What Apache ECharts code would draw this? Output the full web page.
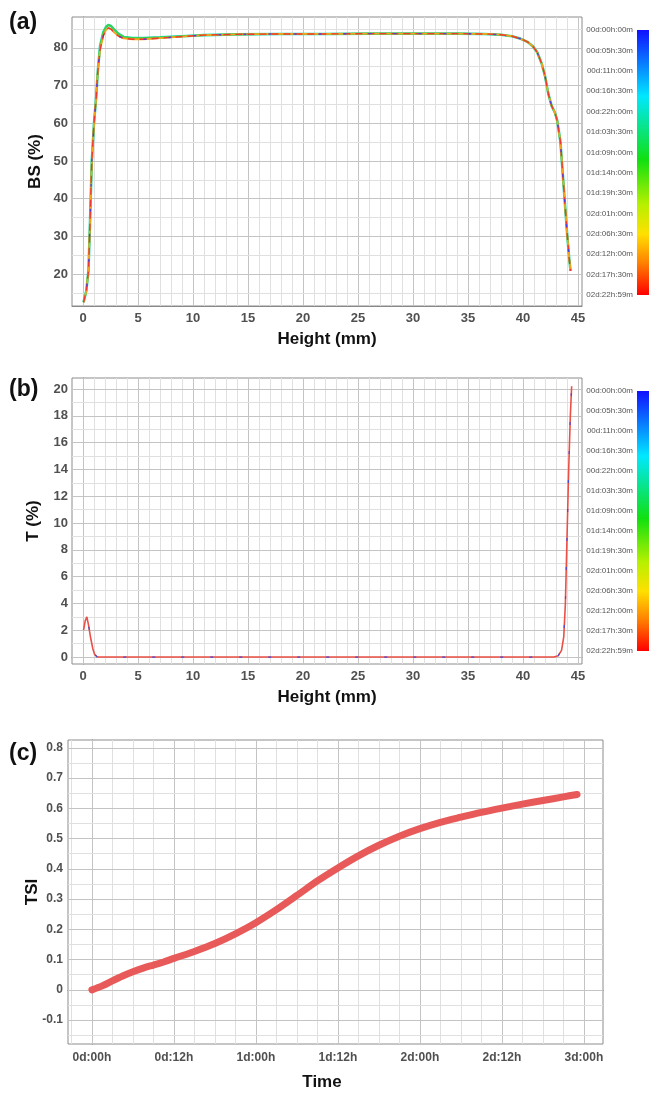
<!DOCTYPE html>
<html>
<head>
<meta charset="utf-8">
<script src="https://cdn.jsdelivr.net/npm/echarts@6/dist/echarts.min.js"></script>
<style>
  html, body { margin: 0; padding: 0; background: #fff; }
  #chart { width: 649px; height: 1095px; }
</style>
</head>
<body>
<div id="chart"></div>
<script>
// (a) backscattering profiles, height in mm, BS in %
var bsHeight = [0.05, 0.3, 0.5, 0.65, 0.8, 1.0, 1.2, 1.35, 1.55, 1.85, 2.1, 2.3, 2.55, 2.8, 3.2, 3.7, 4.5, 5.5, 7, 9,
  11, 14, 18, 22, 26, 30, 34, 36.5, 38, 39, 39.8, 40.4, 40.9, 41.3, 41.7, 42.0, 42.3, 42.6, 42.9, 43.1,
  43.25, 43.4, 43.6, 43.8, 44.0, 44.2, 44.32];
var bsEarly = [12.5, 15.5, 21, 35, 50, 60, 67, 74, 80.5, 84.2, 85.6, 86.1, 85.8, 85.0, 83.8, 82.9, 82.6, 82.6, 82.8, 83.1,
  83.4, 83.6, 83.7, 83.7, 83.8, 83.8, 83.8, 83.7, 83.5, 83.1, 82.4, 81.6, 80.4, 78.8, 75.8, 72.5, 67.8, 64.6, 62.8, 60.8,
  58, 55, 47, 39, 31, 24, 20.8];
var bsLate = [12.5, 15.5, 21, 35, 50, 60, 67, 74, 79.5, 83.3, 84.8, 85.3, 85.0, 84.2, 83.2, 82.5, 82.3, 82.3, 82.6, 83.0,
  83.4, 83.6, 83.7, 83.7, 83.8, 83.8, 83.8, 83.7, 83.5, 83.1, 82.4, 81.6, 80.4, 78.8, 75.8, 72.5, 67.8, 64.6, 62.8, 60.8,
  58, 55, 47, 39, 31, 24, 20.8];

// (b) transmission profile
var tHeight = [0.05, 0.2, 0.35, 0.5, 0.7, 0.9, 1.05, 1.3, 10, 20, 30, 42.8, 43.2, 43.5, 43.7, 43.85, 44.0, 44.15, 44.3, 44.42];
var tValues = [2.0, 2.7, 3.0, 2.4, 1.4, 0.6, 0.2, 0, 0, 0, 0, 0, 0.1, 0.5, 1.5, 4, 9, 14, 18, 20.2];

// (c) TSI over time (hours)
var tsiHours = [0, 1.5, 3, 4.5, 6, 7.5, 9, 10.5, 12, 15, 18, 21, 24, 27, 30, 33, 36, 39, 42, 45, 48, 51, 54, 57, 60, 63, 66, 69, 71];
var tsiValues = [0, 0.013, 0.03, 0.046, 0.06, 0.072, 0.082, 0.092, 0.104, 0.127, 0.153, 0.185, 0.222, 0.265, 0.312, 0.36, 0.403,
  0.443, 0.478, 0.508, 0.533, 0.554, 0.571, 0.587, 0.601, 0.614, 0.626, 0.638, 0.646];

// tick labels
var heightTicks = [0, 5, 10, 15, 20, 25, 30, 35, 40, 45];
var bsTicks = [20, 30, 40, 50, 60, 70, 80];
var tTicks = [0, 2, 4, 6, 8, 10, 12, 14, 16, 18, 20];
var tsiTicks = [-0.1, 0, 0.1, 0.2, 0.3, 0.4, 0.5, 0.6, 0.7, 0.8];
var timeTicks = [0, 12, 24, 36, 48, 60, 72];
var timeLabels = ['0d:00h', '0d:12h', '1d:00h', '1d:12h', '2d:00h', '2d:12h', '3d:00h'];
var scanLabels = ['00d:00h:00m', '00d:05h:30m', '00d:11h:00m', '00d:16h:30m', '00d:22h:00m', '01d:03h:30m',
  '01d:09h:00m', '01d:14h:00m', '01d:19h:30m', '02d:01h:00m', '02d:06h:30m', '02d:12h:00m',
  '02d:17h:30m', '02d:22h:59m'];

var FONT = '"Liberation Sans", Arial, sans-serif';
var MINOR = '#e0e0e0';
var MAJOR = '#c4c4c4';

function zip(xs, ys) {
  return xs.map(function (x, i) { return [x, ys[i]]; });
}
function range(a, b, s) {
  var out = [];
  for (var v = a; v <= b + 1e-9; v += s) out.push(Math.round(v * 1000) / 1000);
  return out;
}
function isMajor(v, step) {
  return Math.abs(v / step - Math.round(v / step)) < 1e-6;
}
// grid lines drawn as mark lines so they line up with real values, not with axis min
function gridSeries(idx, xs, xStep, ys, yStep) {
  var lines = [];
  xs.forEach(function (v) {
    lines.push({ xAxis: v, lineStyle: { color: isMajor(v, xStep) ? MAJOR : MINOR } });
  });
  ys.forEach(function (v) {
    lines.push({ yAxis: v, lineStyle: { color: isMajor(v, yStep) ? MAJOR : MINOR } });
  });
  return {
    type: 'line', xAxisIndex: idx, yAxisIndex: idx, data: [], silent: true,
    markLine: {
      silent: true, symbol: 'none', z: 1, animation: false,
      label: { show: false }, emphasis: { disabled: true },
      lineStyle: { type: 'solid', width: 1 },
      data: lines
    }
  };
}

var tickLabel = { color: '#505050', fontWeight: 'bold', fontSize: 13, fontFamily: FONT };
var axisTitle = { color: '#111', fontWeight: 'bold', fontSize: 17, fontFamily: FONT };
var rainbow = {
  type: 'linear', x: 0, y: 0, x2: 0, y2: 1,
  colorStops: [
    { offset: 0, color: '#1010ff' },
    { offset: 0.25, color: '#00e8ff' },
    { offset: 0.49, color: '#10e010' },
    { offset: 0.66, color: '#b8f000' },
    { offset: 0.77, color: '#ffe000' },
    { offset: 0.88, color: '#ff8000' },
    { offset: 1, color: '#ff0000' }
  ]
};

function heightAxis(idx) {
  return {
    type: 'value', gridIndex: idx, min: -1, max: 45.36,
    name: 'Height (mm)', nameLocation: 'middle', nameGap: 25, nameTextStyle: axisTitle,
    axisLine: { lineStyle: { color: '#888' } },
    axisTick: { inside: true, length: 5, customValues: heightTicks, lineStyle: { color: '#666' } },
    axisLabel: Object.assign({ customValues: heightTicks, margin: 6 }, tickLabel),
    splitLine: { show: false }
  };
}
function barAxes(idx) {
  return {
    x: { type: 'value', gridIndex: idx, show: false },
    y: {
      type: 'category', gridIndex: idx, data: scanLabels, boundaryGap: false, inverse: true,
      axisLine: { show: false }, axisTick: { show: false },
      axisLabel: { interval: 0, fontSize: 8, color: '#555', margin: 4, fontFamily: FONT },
      splitLine: { show: false }
    }
  };
}
var bar1 = barAxes(1);
var bar3 = barAxes(3);

var option = {
  animation: false,
  backgroundColor: '#fff',
  title: [
    { text: '(a)', left: 4, top: 6, textStyle: { fontSize: 23, fontWeight: 'bold', color: '#111', fontFamily: FONT } },
    { text: '(b)', left: 4, top: 373, textStyle: { fontSize: 23, fontWeight: 'bold', color: '#111', fontFamily: FONT } },
    { text: '(c)', left: 4, top: 737, textStyle: { fontSize: 23, fontWeight: 'bold', color: '#111', fontFamily: FONT } }
  ],
  grid: [
    { left: 72, top: 17, width: 510, height: 289, show: true, borderColor: '#8c8c8c', backgroundColor: '#fff' },
    { left: 637, top: 30, width: 12, height: 265, show: true, borderWidth: 0, backgroundColor: rainbow },
    { left: 72, top: 378, width: 510, height: 286, show: true, borderColor: '#8c8c8c', backgroundColor: '#fff' },
    { left: 637, top: 391, width: 12, height: 260, show: true, borderWidth: 0, backgroundColor: rainbow },
    { left: 68, top: 740, width: 535, height: 304, show: true, borderColor: '#8c8c8c', backgroundColor: '#fff' }
  ],
  xAxis: [
    heightAxis(0),
    bar1.x,
    heightAxis(2),
    bar3.x,
    {
      type: 'value', gridIndex: 4, min: -3.5, max: 74.8,
      name: 'Time', nameLocation: 'middle', nameGap: 30,
      nameTextStyle: Object.assign({ padding: [0, 27, 0, 0] }, axisTitle),
      axisLine: { lineStyle: { color: '#777' } },
      axisTick: { inside: true, length: 6, customValues: timeTicks, lineStyle: { color: '#666' } },
      axisLabel: Object.assign({
        customValues: timeTicks, margin: 8, fontSize: 12,
        formatter: function (v) { return timeLabels[timeTicks.indexOf(v)]; }
      }, { color: '#505050', fontWeight: 'bold', fontFamily: FONT }),
      splitLine: { show: false }
    }
  ],
  yAxis: [
    {
      type: 'value', gridIndex: 0, min: 11.5, max: 88.2,
      name: 'BS (%)', nameLocation: 'middle', nameGap: 28, nameMoveOverlap: false, nameTextStyle: axisTitle,
      axisLine: { show: true, lineStyle: { color: '#888' } },
      axisTick: { show: true, inside: true, length: 5, customValues: bsTicks, lineStyle: { color: '#666' } },
      axisLabel: Object.assign({ customValues: bsTicks, margin: 4 }, tickLabel),
      splitLine: { show: false }
    },
    bar1.y,
    {
      type: 'value', gridIndex: 2, min: -0.52, max: 20.82,
      name: 'T (%)', nameLocation: 'middle', nameGap: 30, nameMoveOverlap: false, nameTextStyle: axisTitle,
      axisLine: { show: true, lineStyle: { color: '#888' } },
      axisTick: { show: true, inside: true, length: 5, customValues: tTicks, lineStyle: { color: '#666' } },
      axisLabel: Object.assign({ customValues: tTicks, margin: 4 }, tickLabel),
      splitLine: { show: false }
    },
    bar3.y,
    {
      type: 'value', gridIndex: 4, min: -0.179, max: 0.826,
      name: 'TSI', nameLocation: 'middle', nameGap: 27, nameMoveOverlap: false, nameTextStyle: axisTitle,
      axisLine: { show: true, lineStyle: { color: '#777' } },
      axisTick: { show: true, length: 4, customValues: tsiTicks, lineStyle: { color: '#666' } },
      axisLabel: Object.assign({
        customValues: tsiTicks, margin: 5, fontSize: 12,
        formatter: function (v) { return String(Math.round(v * 10) / 10); }
      }, { color: '#505050', fontWeight: 'bold', fontFamily: FONT }),
      splitLine: { show: false }
    }
  ],
  series: [
    gridSeries(0, range(0, 45, 1), 5, range(15, 85, 5), 10),
    gridSeries(2, range(0, 45, 1), 5, range(0, 20, 1), 2),
    gridSeries(4, range(-3, 72, 3), 12, range(-0.15, 0.8, 0.05), 0.1),

    // (a) overlaid scans: early profiles sit on top at the peak
    { type: 'line', xAxisIndex: 0, yAxisIndex: 0, data: zip(bsHeight, bsEarly), showSymbol: false, z: 3,
      lineStyle: { color: '#18d8b0', width: 2.6 } },
    { type: 'line', xAxisIndex: 0, yAxisIndex: 0, data: zip(bsHeight, bsEarly), showSymbol: false, z: 3,
      lineStyle: { color: '#40d040', width: 1.6 } },
    { type: 'line', xAxisIndex: 0, yAxisIndex: 0, data: zip(bsHeight, bsLate), showSymbol: false, z: 4,
      lineStyle: { color: '#f5a31a', width: 1.8 } },
    { type: 'line', xAxisIndex: 0, yAxisIndex: 0, data: zip(bsHeight, bsLate), showSymbol: false, z: 5,
      lineStyle: { color: '#ec3a30', width: 1.4, type: [7, 5] } },
    { type: 'line', xAxisIndex: 0, yAxisIndex: 0, data: zip(bsHeight, bsLate), showSymbol: false, z: 6,
      lineStyle: { color: '#5040d8', width: 1.4, type: [3, 22], dashOffset: 9 } },

    // (b)
    { type: 'line', xAxisIndex: 2, yAxisIndex: 2, data: zip(tHeight, tValues), showSymbol: false, z: 4,
      lineStyle: { color: '#ea5046', width: 1.6 } },
    { type: 'line', xAxisIndex: 2, yAxisIndex: 2, data: zip(tHeight, tValues), showSymbol: false, z: 5,
      lineStyle: { color: '#4a48d8', width: 1.2, type: [3, 26], dashOffset: 5 } },

    // (c)
    { type: 'line', xAxisIndex: 4, yAxisIndex: 4, data: zip(tsiHours, tsiValues), showSymbol: false, smooth: 0.3, z: 4,
      lineStyle: { color: '#e85a5a', width: 7, cap: 'round', join: 'round' } }
  ]
};

var chart = echarts.init(document.getElementById('chart'), null, { renderer: 'canvas' });
chart.setOption(option);
</script>
</body>
</html>
